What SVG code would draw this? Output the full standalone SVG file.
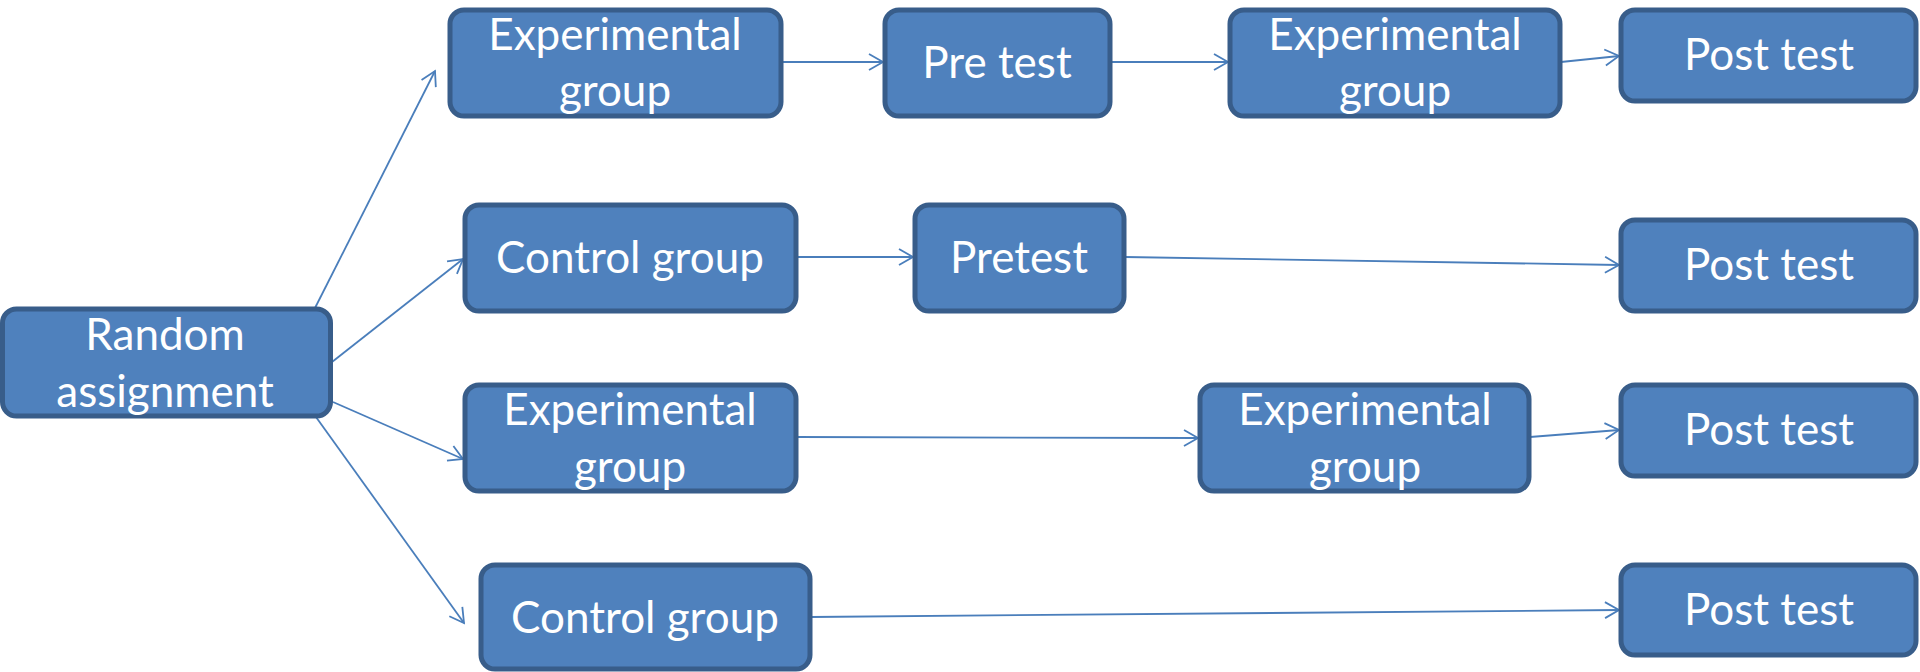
<svg xmlns="http://www.w3.org/2000/svg" width="1920" height="672" viewBox="0 0 1920 672">
<defs>
<style>
.box{fill:#4F81BD;stroke:#385D8A;stroke-width:5}
.t{font-family:Lato,"Open Sans","Liberation Sans",sans-serif;font-size:44px;fill:#FFFFFF;text-anchor:middle}
.c{fill:none;stroke:#4A7EBB;stroke-width:1.8}
</style>
<marker id="arr" markerUnits="userSpaceOnUse" markerWidth="18" markerHeight="20" refX="16" refY="10" orient="auto" viewBox="0 0 18 20">
<path d="M2,2 L16,10 L2,18" fill="none" stroke="#4A7EBB" stroke-width="1.8"/>
</marker>
</defs>
<rect width="1920" height="672" fill="#FFFFFF"/>
<g id="connectors">
<line class="c" x1="315" y1="308" x2="435" y2="71" marker-end="url(#arr)"/>
<line class="c" x1="332" y1="362" x2="463" y2="259" marker-end="url(#arr)"/>
<line class="c" x1="333" y1="402" x2="463" y2="459" marker-end="url(#arr)"/>
<line class="c" x1="316" y1="417" x2="464" y2="623" marker-end="url(#arr)"/>
<line class="c" x1="782" y1="62" x2="883" y2="62" marker-end="url(#arr)"/>
<line class="c" x1="1111" y1="62" x2="1228" y2="62" marker-end="url(#arr)"/>
<line class="c" x1="1561" y1="62" x2="1619" y2="56" marker-end="url(#arr)"/>
<line class="c" x1="797" y1="257" x2="913" y2="257" marker-end="url(#arr)"/>
<line class="c" x1="1125" y1="257" x2="1619" y2="265" marker-end="url(#arr)"/>
<line class="c" x1="797" y1="437" x2="1198" y2="438" marker-end="url(#arr)"/>
<line class="c" x1="1530" y1="437" x2="1619" y2="430" marker-end="url(#arr)"/>
<line class="c" x1="811" y1="617" x2="1619" y2="610" marker-end="url(#arr)"/>
</g>
<g id="random">
<rect class="box" x="2.5" y="309" width="328" height="107" rx="14"/>
<text class="t" x="165" y="350">Random</text>
<text class="t" x="165" y="407">assignment</text>
</g>
<g id="exp1">
<rect class="box" x="450" y="10" width="331" height="106" rx="14"/>
<text class="t" x="615" y="50">Experimental</text>
<text class="t" x="615" y="106">group</text>
</g>
<g id="pre1">
<rect class="box" x="885" y="10" width="225" height="106" rx="14"/>
<text class="t" x="997" y="78">Pre test</text>
</g>
<g id="exp2">
<rect class="box" x="1230" y="10" width="330" height="106" rx="14"/>
<text class="t" x="1395" y="50">Experimental</text>
<text class="t" x="1395" y="106">group</text>
</g>
<g id="post1">
<rect class="box" x="1621" y="10" width="295" height="91" rx="14"/>
<text class="t" x="1769" y="70">Post test</text>
</g>
<g id="control1">
<rect class="box" x="465" y="205" width="331" height="106" rx="14"/>
<text class="t" x="630" y="273">Control group</text>
</g>
<g id="pre2">
<rect class="box" x="915" y="205" width="209" height="106" rx="14"/>
<text class="t" x="1019" y="273">Pretest</text>
</g>
<g id="post2">
<rect class="box" x="1621" y="220" width="295" height="91" rx="14"/>
<text class="t" x="1769" y="280">Post test</text>
</g>
<g id="exp3">
<rect class="box" x="465" y="385" width="331" height="106" rx="14"/>
<text class="t" x="630" y="425">Experimental</text>
<text class="t" x="630" y="482">group</text>
</g>
<g id="exp4">
<rect class="box" x="1200" y="385" width="329" height="106" rx="14"/>
<text class="t" x="1365" y="425">Experimental</text>
<text class="t" x="1365" y="482">group</text>
</g>
<g id="post3">
<rect class="box" x="1621" y="385" width="295" height="91" rx="14"/>
<text class="t" x="1769" y="445">Post test</text>
</g>
<g id="control2">
<rect class="box" x="481" y="565" width="329" height="104" rx="14"/>
<text class="t" x="645" y="633">Control group</text>
</g>
<g id="post4">
<rect class="box" x="1621" y="565" width="295" height="90" rx="14"/>
<text class="t" x="1769" y="625">Post test</text>
</g>
</svg>
